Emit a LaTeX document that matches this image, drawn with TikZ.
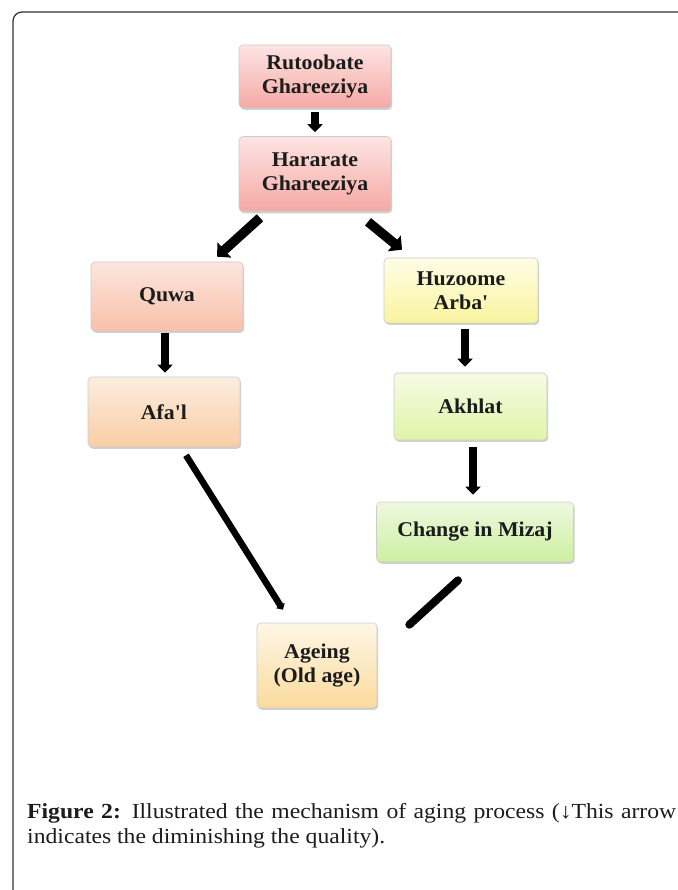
\documentclass[tikz,border=0pt]{standalone}
\usepackage{fontspec}
\setmainfont{Liberation Serif}
\newfontfamily\boxfont[FakeStretch=1.04]{Liberation Serif}
\newfontfamily\capfont[FakeStretch=1.1]{Liberation Serif}
\usetikzlibrary{arrows.meta,shadows,calc}
\definecolor{rutT}{HTML}{FDE4E3}\definecolor{rutB}{HTML}{F5A9A4}
\definecolor{quwT}{HTML}{FDE6DE}\definecolor{quwB}{HTML}{F8C0A9}
\definecolor{afaT}{HTML}{FDEDE0}\definecolor{afaB}{HTML}{F9CDA4}
\definecolor{huzT}{HTML}{FEFDE6}\definecolor{huzB}{HTML}{FAF49F}
\definecolor{akhT}{HTML}{F6FBE4}\definecolor{akhB}{HTML}{E0F4A9}
\definecolor{mizT}{HTML}{EEF9DF}\definecolor{mizB}{HTML}{CDEFA1}
\definecolor{ageT}{HTML}{FEF6E6}\definecolor{ageB}{HTML}{FBDB9D}
\definecolor{txt}{HTML}{1C1C1C}
\tikzset{
  box/.style 2 args={draw=black!20, line width=0.6pt, rounded corners=4pt,
    top color=#1, bottom color=#2,
    drop shadow={shadow xshift=1.2pt, shadow yshift=-1.8pt, opacity=0.3, fill=black!60},
    align=center, inner sep=0pt, text=txt,
    font=\boxfont\bfseries\fontsize{21}{23.5}\selectfont},
  varr/.style={line width=7.5pt, -{Triangle[length=8pt,width=15pt]}},
  darr/.style={line width=9.5pt, -{Triangle[length=10pt,width=20pt]}},
  larr/.style={line width=6.5pt, -{Triangle[length=5pt,width=10pt]}},
  lline/.style={line width=8pt, line cap=round},
  captxt/.style={anchor=base west, inner sep=0pt, text=txt, font=\capfont\fontsize{21.5}{25}\selectfont}
}
\begin{document}
\begin{tikzpicture}[x=1pt,y=-1pt]
\useasboundingbox[fill=white] (0,0) rectangle (677,890);
\draw[line width=1.3pt, black!80, rounded corners=9pt] (700,12) -- (13,12) -- (13,910);

\node[box={rutT}{rutB}, minimum width=152pt, minimum height=63pt] (rut) at (315,76.5) {Rutoobate\\Ghareeziya};
\node[box={rutT}{rutB}, minimum width=152pt, minimum height=75pt] (har) at (315,174) {Hararate\\Ghareeziya};
\node[box={quwT}{quwB}, minimum width=152pt, minimum height=69pt] (quwa) at (167,296.5) {Quwa};
\node[box={huzT}{huzB}, minimum width=154pt, minimum height=65pt] (huz) at (461,290.5) {Huzoome\\Arba'};
\node[box={afaT}{afaB}, minimum width=152pt, minimum height=70pt] (afal) at (164,412) {Afa'l};
\node[box={akhT}{akhB}, minimum width=153pt, minimum height=67pt] (akh) at (470.5,406.5) {Akhlat};
\node[box={mizT}{mizB}, minimum width=197pt, minimum height=60pt] (miz) at (475,532) {Change in Mizaj};
\node[box={ageT}{ageB}, minimum width=120pt, minimum height=85pt] (age) at (317,665.5) {Ageing\\(Old age)};

\draw[varr] ($(rut.south)+(0,4)$) -- ($(har.north)+(0,-4)$);
\draw[darr] ($(har.south)+(-55,6)$) -- ($(quwa.north)+(50,-5)$);
\draw[darr] ($(har.south)+(53,10)$) -- ($(huz.north)+(-59,-8)$);
\draw[varr] ($(quwa.south)+(-2,2)$) -- ($(afal.north)+(1,-4)$);
\draw[varr] ($(huz.south)+(4,6)$) -- ($(akh.north)+(-5.5,-6)$);
\draw[varr] ($(akh.south)+(2.5,7)$) -- ($(miz.north)+(-2,-7)$);
\draw[larr] ($(afal.south)+(22,8)$) -- ($(age.north)+(-34,-13)$);
\draw[lline] ($(miz.south)+(-17,18)$) -- ($(age.north east)+(32,2)$);

\node[captxt] (cap1) at (27,818) {\hbox to 649pt{\textbf{Figure 2:} Illustrated the mechanism of aging process (↓This arrow}};
\node[captxt] (cap2) at (27,843) {indicates the diminishing the quality).};
\end{tikzpicture}
\end{document}
